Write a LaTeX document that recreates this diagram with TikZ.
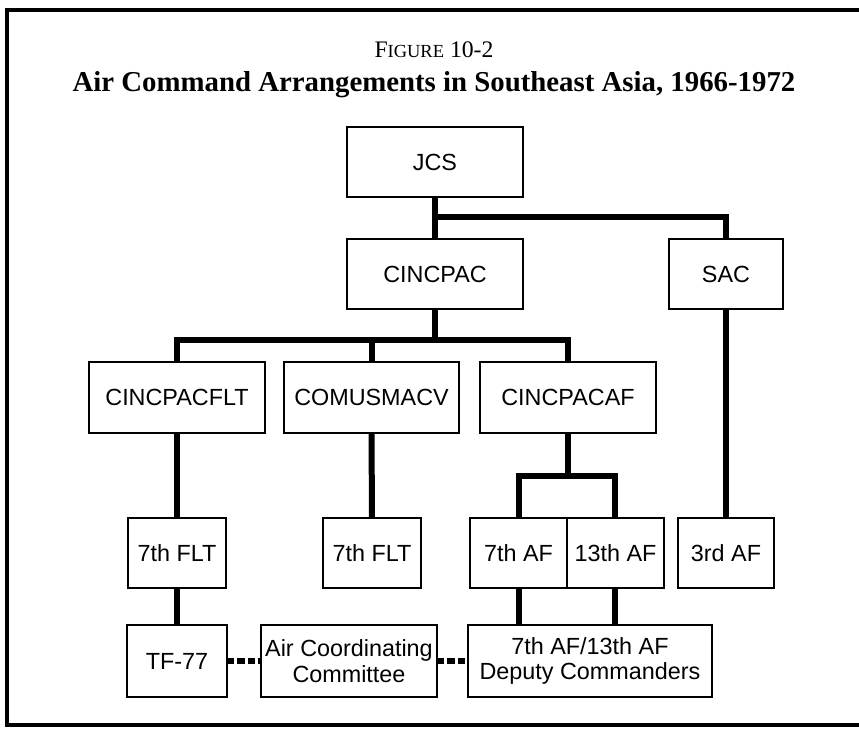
\documentclass[tikz,border=0pt]{standalone}
\usepackage{fontspec}
\setmainfont{Liberation Serif}
\setsansfont{Liberation Sans}
\usetikzlibrary{positioning}

\tikzset{
  box/.style={draw, line width=0.04cm, outer sep=0pt, inner sep=1pt, minimum height=1.4cm,
    font=\sffamily\fontsize{13.3}{14.5}\selectfont, align=center},
  link/.style={line width=0.12cm},
  liaison/.style={line width=0.13cm, dash pattern=on 0.15cm off 0.06cm},
}

\begin{document}
\begin{tikzpicture}[x=0.02cm, y=-0.02cm]
    \useasboundingbox (0,0) rectangle (859,728);

    \draw[line width=0.07cm] (880,10) -- (7,10);
    \draw[line width=0.07cm] (880,725) -- (7,725);
    \draw[line width=0.1cm] (7,8) -- (7,727);

    \node (fig) at (434,50) {\fontsize{13.5}{14}\selectfont F{\fontsize{10.5}{12}\selectfont IGURE} 10-2};
    \node (title) at (434,85) {\fontsize{16.4}{19}\selectfont\bfseries Air Command Arrangements in Southeast Asia, 1966-1972};

    \node[box, minimum width=3.52cm] (jcs) at (435,162) {JCS};
    \node[box, minimum width=3.52cm] (cincpac) at (435,274) {CINCPAC};
    \node[box, minimum width=2.28cm] (sac) at (726,274) {SAC};

    \node[box, minimum width=3.52cm, minimum height=1.42cm] (cincpacflt) at (177,397.5) {CINCPACFLT};
    \node[box, minimum width=3.5cm, minimum height=1.42cm] (comusmacv) at (371.5,397.5) {COMUSMACV};
    \node[box, minimum width=3.52cm, minimum height=1.42cm] (cincpacaf) at (568,397.5) {CINCPACAF};

    \node[box, minimum width=1.96cm] (flta) at (177,553) {7th FLT};
    \node[box, minimum width=1.96cm] (fltb) at (372,553) {7th FLT};
    \node[box, minimum width=1.94cm] (afseven) at (518.5,553) {7th AF};
    \node[box, minimum width=1.94cm, right=0pt of afseven] (afthirteen) {13th AF};
    \node[box, minimum width=1.92cm] (afthird) at (726,553) {3rd AF};

    \node[box, minimum width=2cm, minimum height=1.44cm] (tf) at (177,661) {TF-77};
    \node[box, minimum width=3.52cm, minimum height=1.44cm] (acc) at (349,661) {Air Coordinating\\Committee};
    \node[box, minimum width=4.88cm, minimum height=1.44cm] (dep) at (590,661) {7th AF/13th AF\\Deputy Commanders};

    \coordinate (jbus) at (435,217);
    \coordinate (pbus) at (435,340);
    \coordinate (afbus) at (568,476);

    \draw[link] (jcs.south) -- (cincpac.north);
    \draw[link] (jbus) -| (sac.north);
    \draw[link] (cincpac.south) -- (pbus);
    \draw[link] (cincpacflt.north) |- (pbus) -| (cincpacaf.north);
    \draw[link] (comusmacv.north) -- (comusmacv.north |- pbus);

    \draw[link] (cincpacflt.south) -- (flta.north);
    \draw[link] (flta.south) -- (tf.north);
    \draw[link] (comusmacv.south) -- (fltb.north);
    \draw[link] (cincpacaf.south) -- (afbus);
    \draw[link] (afseven.north) |- (afbus) -| (afthirteen.north);
    \draw[link] (sac.south) -- (afthird.north);
    \draw[link] (afseven.south) -- (afseven.south |- dep.north);
    \draw[link] (afthirteen.south) -- (afthirteen.south |- dep.north);

    \draw[liaison] (tf.east) -- (acc.west);
    \draw[liaison] (acc.east) -- (dep.west);
\end{tikzpicture}
\end{document}
